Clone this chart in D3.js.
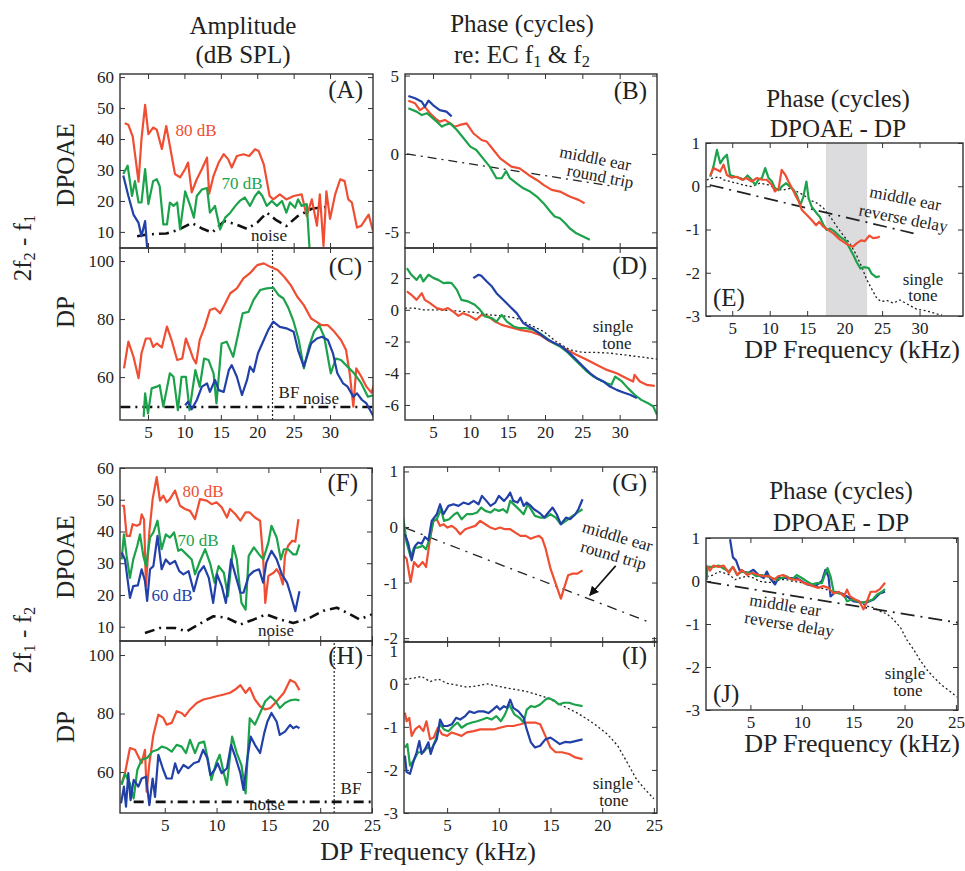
<!DOCTYPE html>
<html>
<head>
<meta charset="utf-8">
<script src="https://cdn.jsdelivr.net/npm/d3@7"></script>
<style>
body { margin: 0; background: #fff; }
svg text { font-family: "Liberation Serif", "Times New Roman", serif; fill: #222; }
</style>
</head>
<body>
<script>
// colours for the three stimulus levels
const RED = "#f04e32", GREEN = "#1ca24a", BLUE = "#2140a8";
const SERIF = '"Liberation Serif", "Times New Roman", serif';

// ---- 2f2-f1 : DPOAE amplitude (A) ----
const aRed = [[1.8,45.1],[2.3,44.6],[2.9,40.8],[3.7,26.2],[4.1,40],[4.6,51],[5.05,41.6],[5.7,43.7],[6.2,43],[6.9,36.8],[7.5,44.2],[8,37.8],[8.7,28.7],[9.4,27.6],[10.1,30.3],[10.5,32.4],[11,22.8],[11.7,27],[12.4,30.3],[13.1,34],[13.4,22.3],[14,28.1],[14.7,32.4],[15.4,35.1],[16,33.5],[16.5,30.8],[17.2,34.5],[18.1,35.1],[18.9,34.5],[19.7,36.7],[20.2,36.1],[20.9,31.8],[21.7,21.6],[22.2,20.5],[23.1,22.1],[24,20.5],[25,21.6],[26.1,22.1],[26.8,15.1],[27.5,20.5],[28.2,12],[28.6,22.1],[29.1,5.5],[29.5,23.1],[30,14.2],[30.7,22.1],[31.4,27],[32,26.4],[32.5,20.5],[33,19.5],[33.7,11.4],[34.3,12],[35.3,15.6],[35.9,10.3]];
const aGreen = [[1.6,28.7],[2.2,31.4],[2.8,21.6],[3.2,26.4],[3.7,19.5],[4.1,19.5],[4.6,30.3],[5.05,19],[5.7,26.4],[6.2,27],[6.6,24.8],[7.1,12.4],[7.6,12.4],[8,19.5],[8.5,18.4],[9,19.5],[9.4,10.8],[10.1,23.1],[10.8,18.4],[11.3,14.6],[11.7,21.6],[12.4,23.7],[13.1,24.2],[13.5,16.2],[14.2,18.4],[14.9,10.8],[15.6,14.6],[16.3,16.2],[17,18.4],[17.6,20],[18.3,21.1],[19,18.4],[19.7,21.6],[20.2,23.1],[20.7,21.6],[21.3,18.4],[22,20],[22.7,18.4],[23.4,20],[24,16.2],[24.5,19.5],[25.2,17.8],[25.6,20.5],[26.1,18.4],[26.8,19],[27.2,4]];
const aBlue = [[1.6,28.2],[2.3,21.6],[3,15.6],[3.7,12.9],[4.1,8.6],[4.6,13.5],[4.9,4]];
const aNoise = [[3.5,8.6],[5,9.2],[7.5,9.5],[9,10.5],[11,12.9],[12.5,11],[13.8,9.8],[15.5,13.5],[17,12.5],[18.6,11],[20,13],[21.3,16.2],[22.5,14],[24,11.9],[25.5,15],[27.5,17.5],[30,18.2]];

// ---- 2f2-f1 : DP amplitude (C) ----
const cRed = [[1.7,63],[2.3,72.2],[3,67],[3.7,59.6],[4.1,68.2],[4.7,73.3],[5.3,73.3],[5.7,70.4],[6.2,71.6],[6.9,70.2],[7.6,77.4],[8.3,72.2],[9,65.9],[9.7,66.4],[10.2,73.3],[10.8,69.3],[11.2,66.4],[11.6,64.7],[12.1,72.8],[12.8,77.4],[13.5,83.1],[14.2,83.7],[14.9,82],[15.6,85.4],[16.3,88.9],[17.2,90.6],[18.1,94],[19,95.8],[20,98.6],[20.9,99.2],[21.8,98],[22.8,96.9],[23.7,94.6],[24.6,91.7],[25.5,87.7],[26.4,84.8],[27.4,80.2],[28.1,79.1],[28.8,77.9],[29.7,77.9],[30.6,75.6],[31.5,72.8],[32.2,69.3],[32.7,61.3],[33.2,49.8],[33.6,63],[34.3,60.1],[35,56.7],[35.7,54.6],[36,57.2]];
const cGreen = [[4.4,46.3],[4.6,54.4],[5,47.5],[5.5,56.1],[6.2,56.7],[6.6,57.2],[7.1,49.8],[8,61.3],[8.5,60.1],[9.1,48.6],[9.6,60.1],[10.2,60.1],[10.7,48.6],[11.5,62.4],[12.1,56.7],[12.7,66.4],[13.3,65.9],[14,61.3],[14.4,50.9],[15.1,71.6],[15.8,72.2],[16.3,69.3],[16.7,67],[17.4,75.1],[18,82],[18.8,82.5],[19.5,86.6],[20.4,90],[21.3,90.6],[22.2,90.8],[22.9,88.3],[23.6,87.1],[24.3,83.7],[25,79.1],[25.7,72.8],[26.4,63],[27.1,70.4],[27.8,75.6],[28.5,77.9],[29.2,73.9],[30.1,61.3],[30.8,66.4],[31.5,65.9],[32.4,63.6],[33.3,61.3],[34.3,57.8],[35.2,53.2],[36,53.8]];
const cBlue = [[10.1,50.3],[10.5,51.5],[11,48.9],[11.7,52.1],[12.4,56.7],[13.1,57.8],[13.5,54.9],[14.2,59],[14.7,55.5],[15.4,54.9],[16.1,62.4],[16.5,64.1],[17.2,60.1],[17.9,53.8],[18.6,59],[19,63.6],[19.5,61.8],[20.1,68.2],[20.9,72.8],[21.5,76.2],[22.2,79.1],[23.1,77.3],[24,76.8],[25,75.6],[25.6,69.3],[26.4,63.6],[27.4,71.6],[28.2,73.3],[28.9,73.9],[29.7,72.8],[30.4,68.2],[31,61.3],[31.8,57.8],[32.4,56.7],[33.2,53.2],[33.7,54.4],[34.4,52.1],[35,50.9],[36,46.3]];
const cNoise = [[1.2,49.7],[36,49.7]];
const bfTop = 22.1;

// ---- 2f2-f1 : DPOAE phase (B) ----
const bRed = [[1.7,3.4],[2.6,3.23],[3.25,2.8],[3.9,3.0],[4.6,2.6],[5.3,2.27],[5.9,2.06],[6.6,2.17],[7.3,1.95],[7.9,1.74],[8.6,1.85],[9.5,1.95],[10.4,1.32],[11.5,0.89],[12.2,0.79],[13.1,0.25],[14,-0.28],[14.9,-0.6],[15.5,-0.81],[16.6,-0.92],[17.8,-1.34],[18.9,-1.66],[19.8,-1.97],[20.9,-2.29],[22,-2.4],[23.3,-2.72],[24.5,-2.93],[25.3,-3.14]];
const bGreen = [[1.7,2.91],[2.8,2.7],[3.5,2.48],[4.2,2.6],[5,2.27],[5.5,2.06],[6.2,1.74],[6.6,1.85],[7.3,1.95],[8.2,1.53],[9.1,1.0],[10,0.47],[10.8,0.25],[11.7,-0.28],[12.6,-0.81],[13.5,-1.55],[14.2,-1.55],[14.8,-1.1],[15.3,-1.55],[16.2,-1.87],[17.1,-2.19],[18,-2.4],[18.9,-2.72],[19.8,-3.14],[20.7,-3.67],[21.3,-3.99],[22,-4.1],[22.7,-4.42],[23.3,-4.74],[24.2,-5.06],[25.1,-5.27],[26,-5.48]];
const bBlue = [[1.7,3.7],[2.6,3.55],[3.5,3.33],[3.9,3.01],[4.4,3.4],[5,3.12],[5.9,2.8],[6.8,2.7],[7.5,2.4]];
const bEar = [[1.5,0],[29,-2.05]];

// ---- 2f2-f1 : DP phase (D) ----
const dGreen = [[1.5,2.63],[2.1,2.21],[2.8,1.89],[3.3,2.21],[3.7,1.79],[4.4,2.21],[5.1,2.0],[5.7,1.89],[6.4,1.68],[7,1.72],[7.5,1.68],[8.2,1.26],[8.8,0.63],[9.7,0.53],[10.6,0.32],[11.3,0],[12,-0.42],[12.9,-0.53],[13.5,-0.74],[14.2,-0.32],[14.9,-0.74],[15.8,-1.05],[16.6,-1.16],[17.5,-1.16],[18.4,-1.26],[19.3,-1.47],[20.2,-1.79],[21.1,-2.1],[22,-2.31],[22.9,-2.63],[23.8,-3.05],[24.7,-3.47],[25.6,-3.89],[26.5,-4.21],[27.4,-4.42],[28.3,-4.63],[28.9,-4.73],[29.4,-4.21],[30.3,-4.52],[31.1,-4.94],[32,-5.36],[32.9,-5.68],[33.8,-5.89],[34.5,-6.1],[35,-6.62]];
const dBlue = [[10.4,2.0],[11.1,2.21],[11.5,2.14],[12.2,1.79],[12.9,1.47],[13.5,1.05],[14.4,0.63],[15.3,0.21],[16.2,-0.21],[17.1,-0.84],[17.8,-1.05],[18.6,-1.26],[19.5,-1.58],[20.4,-1.89],[21.3,-2.1],[22.2,-2.31],[23.3,-2.73],[24.2,-3.15],[25.1,-3.57],[26,-3.99],[26.9,-4.31],[27.8,-4.52],[28.7,-4.84],[29.6,-5.05],[30.5,-5.21],[31.4,-5.36],[32.3,-5.57]];
const dRed = [[1.5,1.16],[2.1,0.95],[2.8,0.63],[3.5,1.05],[3.9,0.63],[4.6,0.42],[5.5,0.11],[6.4,0],[7,0.11],[7.7,-0.11],[8.4,-0.38],[9,-0.21],[9.9,-0.38],[10.8,-0.63],[11.5,-0.32],[12.4,-0.42],[13.3,-0.74],[14.2,-0.95],[15.3,-1.09],[16.6,-1.26],[18,-1.37],[19.3,-1.58],[20.7,-2.0],[21.8,-2.21],[22.9,-2.52],[24.2,-2.84],[25.6,-3.15],[26.9,-3.47],[28.3,-3.79],[29.6,-4.0],[30.9,-4.31],[31.8,-4.52],[32,-4.1],[32.7,-4.52],[33.6,-4.73],[34.7,-4.8]];
const dTone = [[1.25,0.11],[2.4,0.11],[3.7,0],[5.5,0],[7.3,-0.04],[9.1,-0.11],[10.8,-0.17],[12.6,-0.32],[14.4,-0.38],[16.2,-0.53],[18,-0.95],[19.8,-1.37],[21.5,-2.0],[23.3,-2.52],[25.1,-2.69],[26.9,-2.69],[28.7,-2.73],[30.5,-2.84],[32.3,-2.94],[35,-3.11]];

// ---- 2f2-f1 : DPOAE - DP phase (E) ----
const eGreen = [[2.07,0.22],[2.5,0.46],[2.96,0.84],[3.4,0.53],[3.84,0.65],[4.29,0.73],[4.7,0.26],[5.4,0.22],[6.07,0.19],[6.5,0.15],[7.05,0.25],[7.6,0.15],[8.07,0.03],[8.5,0.15],[8.96,0.19],[9.4,0.42],[9.85,0.19],[10.3,0.11],[10.7,-0.05],[11.2,-0.09],[11.6,-0.01],[12.2,0.07],[12.7,-0.01],[13.2,-0.09],[13.6,-0.2],[14.1,-0.43],[14.5,-0.24],[14.9,0.11],[15.2,-0.28],[15.6,-0.47],[16.3,-0.63],[16.7,-0.71],[17.2,-0.9],[17.6,-1.01],[18.1,-0.98],[18.7,-1.05],[19.4,-1.17],[20.1,-1.25],[20.7,-1.44],[21.2,-1.6],[21.6,-1.75],[22.1,-1.9],[22.6,-1.87],[23.2,-1.89],[23.6,-2.02],[24.2,-2.1],[24.7,-2.08]];
const eRed = [[2.07,0.25],[2.5,0.42],[2.96,0.38],[3.4,0.34],[3.84,0.5],[4.29,0.26],[4.9,0.2],[5.6,0.22],[6.3,0.15],[6.9,0.19],[7.6,0.11],[8.3,0.19],[9,0.15],[9.6,0.15],[10.3,0.03],[10.7,-0.12],[11.2,-0.05],[11.6,0.38],[12.1,0.26],[12.5,0.11],[13,-0.05],[13.4,-0.2],[13.9,-0.36],[14.3,-0.55],[15,-0.67],[15.6,-0.78],[16.2,-0.9],[16.6,-0.82],[17.2,-0.94],[17.8,-1.01],[18.5,-1.09],[19.2,-1.21],[19.8,-1.28],[20.5,-1.36],[21.1,-1.4],[21.6,-1.32],[22.2,-1.25],[22.7,-1.27],[23.3,-1.14],[23.8,-1.2],[24.3,-1.19],[24.7,-1.16]];
const eTone = [[1.6,0.15],[2.5,0.19],[3.2,0.22],[3.84,0.15],[4.7,0.11],[5.6,0.07],[6.5,0.03],[7.6,-0.01],[8.7,0.07],[9.85,0.03],[11,-0.06],[11.8,-0.09],[12.7,-0.05],[13.6,-0.12],[14.5,-0.2],[15.4,-0.32],[16.3,-0.39],[17.2,-0.51],[18.1,-0.71],[19,-0.94],[19.8,-1.13],[20.7,-1.32],[21.6,-1.6],[22.3,-1.87],[22.9,-2.14],[23.6,-2.37],[24.3,-2.59],[24.9,-2.67],[25.6,-2.64],[26.5,-2.7],[27.4,-2.63],[28.3,-2.72],[29.6,-2.84],[30.9,-2.88],[32.3,-2.95],[33,-2.98]];
const eEar = [[2,0.03],[29.2,-1.09]];
const eBand = [17.5, 23];

// ---- 2f1-f2 : DPOAE amplitude (F) ----
const fRed = [[0.84,48.1],[1.06,48.1],[1.32,38.6],[1.64,38.6],[1.9,42.3],[2.29,41.8],[2.61,42.3],[2.77,45.4],[3,43.8],[3.19,22.8],[3.51,39.7],[3.83,50.2],[4.22,57.1],[4.54,49.7],[4.86,51.3],[5.18,49.2],[5.5,50.2],[5.99,52.9],[6.47,48.1],[6.95,47.1],[7.44,46.5],[7.92,43.9],[8.4,50.2],[9.05,49.7],[9.53,48.6],[10,49.2],[10.5,47.6],[11,44.4],[11.3,47.1],[11.8,45.5],[12.3,43.4],[12.8,46],[13.2,46],[13.7,44.4],[14.2,43.4],[14.5,31.3],[14.7,17.5],[15,26],[15.5,27],[15.8,28.1],[16.1,26.5],[16.4,23.3],[16.6,32.3],[16.9,35.5],[17.3,37.1],[17.6,36.8],[17.9,43.9]];
const fGreen = [[0.84,31.2],[1.06,39.1],[1.32,32.3],[1.64,25.4],[1.96,31.2],[2.35,35.5],[2.61,39.1],[2.93,32.3],[3.19,29.1],[3.58,38.1],[3.9,39.7],[4.3,43.4],[4.7,34.4],[5.1,39.1],[5.5,38.1],[5.9,39.7],[6.3,33.9],[6.6,34.4],[7.1,32.8],[7.6,31.2],[7.92,26.5],[8.4,30.7],[8.9,34.4],[9.4,29.7],[9.8,23.9],[10.2,29.1],[10.7,27],[11.1,19.6],[11.6,35.5],[11.95,31.2],[12.4,17.5],[12.8,15.4],[13.1,32.3],[13.6,35],[14.1,32.8],[14.5,31.2],[15,36.5],[15.3,41.8],[15.8,38.1],[16.2,31.2],[16.5,34.4],[16.9,34.4],[17.4,32.8],[17.7,32.8],[18,35.9]];
const fBlue = [[0.84,33.4],[1.16,31.2],[1.64,19.1],[1.96,22.8],[2.4,23],[2.77,28.1],[3.09,24.4],[3.3,18.1],[3.58,28.1],[3.9,29.1],[4.3,38.6],[4.7,28.1],[5.1,31.2],[5.5,29.7],[5.99,30.7],[6.4,27.5],[6.8,26.5],[7.3,27.5],[7.8,21.2],[8.28,27],[8.77,29.1],[9.25,25.4],[9.67,17.5],[10.05,26.5],[10.5,22.8],[10.9,17.5],[11.4,31.2],[11.8,26.5],[12.3,20.7],[12.6,20.7],[13.1,26],[13.6,27.5],[14.1,28.1],[14.5,23.9],[14.8,30.2],[15.3,33.9],[15.8,31.2],[16.3,26.5],[16.8,23.9],[17.1,20.7],[17.6,14.9],[18,21.2]];
const fNoise = [[3.09,8],[4.54,9.6],[6,9.6],[7.1,8.5],[8.8,11.7],[9.7,13.3],[11,12.8],[12.3,10.7],[13.6,12.3],[14.8,13.9],[16.1,12.3],[17.4,11.2],[18.7,12.3],[20.3,15],[21.6,16],[22.9,13.9],[23.8,12.3],[25,13.9]];

// ---- 2f1-f2 : DP amplitude (H) ----
const hRed = [[0.84,56.1],[1.16,59.6],[1.64,68.2],[2.13,67.6],[2.45,65.3],[2.77,63.1],[3.09,67.6],[3.25,53.3],[3.51,62.8],[3.9,72.7],[4.38,79.6],[4.86,78.5],[5.18,76.2],[5.67,76.8],[6.15,80.8],[6.63,80.2],[6.95,79.1],[7.44,81.4],[8.08,83.6],[8.73,84.8],[9.37,85.3],[10,85.9],[10.7,86.5],[11.3,87.1],[11.8,88.2],[12.3,89.7],[12.8,87.1],[13.2,88.8],[13.7,84.8],[14.2,82.5],[14.7,81.4],[15.2,81.9],[15.8,84.2],[16.5,87.1],[17.1,91.5],[17.6,90.5],[18,88]];
const hGreen = [[0.84,55.6],[1.16,59.4],[1.64,56.1],[2,51],[2.35,60.7],[2.77,64.2],[3.3,64.8],[3.8,67],[4.3,67.6],[4.7,68.7],[5.18,68.2],[5.67,67],[6.15,69.3],[6.63,68.7],[7.05,66.5],[7.44,71],[7.92,66.5],[8.3,69.9],[8.8,70.4],[9.2,63.6],[9.5,57.3],[9.95,63],[10.3,65.9],[10.7,59.6],[11,55.6],[11.5,72.1],[11.95,66.5],[12.4,62.4],[12.8,52.7],[13.2,78.4],[13.7,76.2],[14.2,80.2],[14.7,84.2],[15.2,85.9],[15.7,84.2],[16.1,81.9],[16.6,83.6],[17.1,84.5],[17.6,84.8],[18,84.5]];
const hBlue = [[0.78,49.3],[1.06,55],[1.26,48.2],[1.48,59.6],[1.7,50.4],[2,57.3],[2.45,55],[2.77,57.8],[3.19,58.4],[3.51,48.7],[3.83,57.8],[4.06,51.5],[4.38,65.9],[4.86,60.7],[5.18,57.8],[5.67,57.8],[6,63],[6.31,59.6],[6.8,62.4],[7.28,61.3],[7.8,63],[8.28,63.6],[8.7,67.6],[9.1,64.8],[9.4,59],[9.8,60.7],[10.1,63],[10.5,59.6],[11,61.3],[11.4,69.3],[11.8,65.3],[12.3,59.6],[12.6,53.9],[13,65.3],[13.3,72.1],[13.7,69.3],[14.2,66.5],[14.6,73.3],[14.9,77.2],[15.3,80.2],[15.8,77.2],[16.1,72.7],[16.6,73.8],[17.1,76.1],[17.4,75],[17.7,75.6],[18,75]];
const hNoise = [[2,49.8],[25,49.8]];
const bfBottom = 21.35;

// ---- 2f1-f2 : DPOAE phase (G) ----
const gBlue = [[0.92,-0.13],[1.25,-0.3],[1.57,-0.6],[1.9,-0.34],[2.2,-0.28],[2.54,-0.3],[2.86,-0.18],[3.19,-0.24],[3.51,0.11],[4,0.23],[4.32,0.41],[4.64,0.23],[5.13,0.38],[5.61,0.41],[6.1,0.38],[6.58,0.44],[7.07,0.41],[7.56,0.47],[8.04,0.41],[8.37,0.56],[8.8,0.47],[9.2,0.38],[9.66,0.44],[10,0.56],[10.5,0.47],[10.8,0.53],[11.1,0.62],[11.4,0.47],[11.8,0.44],[12.1,0.53],[12.4,0.38],[12.7,0.44],[13.1,0.38],[13.4,0.32],[13.9,0.26],[14.4,0.17],[14.8,0.26],[15.2,0.35],[15.6,0.23],[16,0.05],[16.5,0.17],[16.9,0.14],[17.4,0.23],[17.7,0.32],[18.1,0.5]];
const gGreen = [[0.76,0.17],[1.08,-0.28],[1.47,-0.54],[1.8,-0.37],[2.2,-0.37],[2.64,-0.34],[2.96,-0.4],[3.35,-0.18],[3.67,0.11],[4,0.14],[4.4,0.32],[4.7,0.11],[5.2,0.14],[5.7,0.23],[6,0.26],[6.4,0.14],[6.9,0.23],[7.4,0.23],[7.9,0.26],[8.3,0.35],[8.7,0.29],[9.2,0.26],[9.6,0.32],[10,0.29],[10.4,0.32],[10.8,0.26],[11.1,0.47],[11.6,0.38],[12.1,0.29],[12.4,0.23],[12.8,0.41],[13.2,0.29],[13.5,0.2],[14,0.17],[14.5,0.17],[15,0.23],[15.5,0.17],[16,0.05],[16.5,0.11],[16.9,0.17],[17.6,0.26],[18.1,0.32]];
const gRed = [[0.76,-0.51],[1.08,-0.57],[1.47,-0.99],[1.8,-0.63],[2.2,-0.72],[2.64,-0.63],[2.96,-0.72],[3.35,-0.21],[3.67,0.11],[4,0.14],[4.32,0.02],[4.64,0.05],[5.03,-0.01],[5.45,0.02],[5.87,-0.04],[6.26,-0.13],[6.75,-0.04],[7.23,-0.01],[7.72,0.02],[8.2,0.11],[8.7,0.05],[9.2,-0.01],[9.66,-0.04],[10.1,-0.01],[10.6,-0.04],[11.1,-0.04],[11.6,-0.1],[12.1,-0.16],[12.6,-0.16],[13.1,-0.21],[13.5,-0.18],[13.9,-0.16],[14.2,-0.21],[14.5,-0.37],[15,-0.75],[15.5,-1.02],[16,-1.29],[16.3,-1.11],[16.7,-0.87],[17.1,-0.84],[17.6,-0.84],[18.1,-0.78]];
const gEar = [[1,-0.02],[24.5,-1.71]];
const gArrow = [[21.3,-0.7],[18.8,-1.23]];

// ---- 2f1-f2 : DP phase (I) ----
const iTone = [[0.92,0.11],[1.73,0.13],[2.54,0.17],[3.35,0.05],[4.16,0.11],[4.97,0.01],[5.94,-0.03],[6.9,-0.08],[7.88,-0.05],[8.85,0],[9.8,-0.05],[10.8,-0.1],[11.8,-0.14],[12.7,-0.18],[13.7,-0.25],[14.7,-0.33],[15.6,-0.44],[16.6,-0.56],[17.6,-0.68],[18.6,-0.83],[19.5,-0.98],[20.5,-1.17],[21.5,-1.44],[22.4,-1.82],[23.3,-2.21],[24.1,-2.44],[25,-2.67]];
const iBlue = [[0.92,-1.67],[1.08,-2.05],[1.41,-2.09],[1.73,-1.82],[2.05,-1.59],[2.31,-1.33],[2.54,-1.63],[2.86,-1.52],[3.19,-1.36],[3.41,-1.63],[3.67,-1.44],[4,-1.29],[4.32,-0.83],[4.64,-0.98],[5.03,-0.98],[5.45,-0.94],[5.87,-0.79],[6.26,-0.83],[6.75,-0.75],[7.17,-0.64],[7.62,-0.68],[8.04,-0.64],[8.53,-0.64],[9,-0.68],[9.43,-0.6],[9.82,-0.52],[10.1,-0.6],[10.5,-0.52],[10.8,-0.56],[11.1,-0.37],[11.4,-0.56],[11.9,-0.64],[12.4,-0.79],[12.7,-1.06],[13.1,-1.36],[13.5,-1.48],[14,-1.44],[14.5,-1.29],[15,-1.25],[15.5,-1.33],[15.9,-1.4],[16.4,-1.35],[16.9,-1.36],[17.4,-1.33],[18.1,-1.29]];
const iGreen = [[0.92,-1.48],[1.15,-1.4],[1.41,-1.9],[1.73,-1.79],[2.2,-1.59],[2.7,-1.59],[3.06,-1.48],[3.5,-1.52],[3.9,-1.29],[4.32,-0.94],[4.7,-1.06],[5.13,-1.1],[5.6,-0.98],[6,-0.9],[6.4,-1.02],[6.9,-0.94],[7.4,-0.9],[7.9,-0.87],[8.4,-0.83],[8.85,-0.79],[9.3,-0.83],[9.75,-0.75],[10.2,-0.87],[10.6,-0.71],[11,-0.48],[11.5,-0.71],[12,-0.79],[12.4,-0.9],[12.7,-0.6],[13.1,-0.52],[13.5,-0.54],[14,-0.48],[14.5,-0.37],[14.8,-0.33],[15.3,-0.38],[15.8,-0.48],[16.3,-0.44],[16.8,-0.44],[17.3,-0.48],[18.1,-0.52]];
const iRed = [[0.92,-0.67],[1.08,-0.87],[1.34,-0.79],[1.57,-1.21],[1.9,-1.06],[2.3,-0.98],[2.7,-1.1],[3,-0.87],[3.35,-1.29],[3.7,-1.25],[4.1,-1.02],[4.5,-1.17],[5,-1.21],[5.45,-1.13],[5.94,-1.17],[6.4,-1.21],[6.9,-1.13],[7.56,-1.1],[8.2,-1.06],[8.85,-1.06],[9.5,-1.06],[10.1,-1.02],[10.8,-0.98],[11.4,-0.98],[12.1,-0.94],[12.7,-0.9],[13.5,-0.9],[14,-0.94],[14.5,-1.21],[15,-1.48],[15.5,-1.59],[16.1,-1.59],[16.8,-1.63],[17.4,-1.71],[18.1,-1.75]];

// ---- 2f1-f2 : DPOAE - DP phase (J) ----
const jBlue = [[3.02,0.97],[3.3,0.55],[3.6,0.48],[3.93,0.26],[4.3,0.22],[4.8,0.19],[5.3,0.26],[5.8,0.14],[6.3,0.07],[6.6,0.22],[6.9,0.07],[7.4,-0.08],[7.7,0.07],[8.5,0.07],[9.5,0.07],[10.5,-0.08],[11.3,-0.12],[11.96,0],[12.3,0.26],[12.6,0.1],[12.8,-0.36],[13.3,-0.25],[13.9,-0.29],[14.4,-0.36],[15,-0.47],[15.7,-0.5],[16.3,-0.5],[17,-0.43],[17.6,-0.29],[18.1,-0.25]];
const jGreen = [[0.75,0.02],[0.8,0.33],[1.4,0.33],[1.9,0.36],[2.4,0.29],[2.9,0.22],[3.3,0.33],[3.7,0.14],[4.16,0.22],[4.65,0.19],[5.1,0.19],[5.6,0.11],[6.1,0.14],[6.6,0.11],[7.1,0.07],[7.57,0.03],[8.06,0.07],[8.5,0.11],[9.03,0.03],[9.5,0.14],[10,0.07],[10.5,-0.01],[11,-0.08],[11.5,-0.05],[11.96,-0.05],[12.3,0.19],[12.5,0.3],[12.8,0.11],[13.1,-0.25],[13.6,-0.29],[14.1,-0.32],[14.4,-0.47],[14.9,-0.43],[15.4,-0.47],[15.9,-0.5],[16.4,-0.47],[16.9,-0.43],[17.3,-0.32],[17.8,-0.25],[18.1,-0.19]];
const jRed = [[0.75,0.36],[1.07,0.24],[1.4,0.36],[1.9,0.33],[2.4,0.36],[2.9,0.19],[3.3,0.33],[3.74,0.14],[4.16,0.26],[4.7,0.14],[5.2,0.19],[5.8,0.14],[6.3,0.11],[6.8,0.12],[7.3,0.03],[7.7,0.11],[8.2,0.14],[8.7,0.07],[9.2,0.03],[9.7,0.03],[10.2,-0.05],[10.7,-0.08],[11.1,-0.12],[11.6,-0.16],[12.1,-0.12],[12.6,-0.16],[13.1,-0.29],[13.6,-0.25],[14.1,-0.36],[14.4,-0.2],[14.7,-0.36],[15.2,-0.43],[15.6,-0.47],[16,-0.66],[16.3,-0.5],[16.7,-0.25],[17.2,-0.25],[17.6,-0.19],[18.1,-0.04]];
const jTone = [[0.75,0.1],[1.4,0.14],[1.9,0.22],[2.4,0.19],[3,0.14],[3.5,0.03],[4,0.07],[4.65,0.11],[5.3,0.07],[5.9,-0.01],[6.6,-0.03],[7.2,-0.03],[7.9,0.03],[8.5,0.03],[9.2,-0.01],[9.8,-0.03],[10.5,-0.05],[11.1,-0.1],[11.8,-0.16],[12.4,-0.2],[13.1,-0.25],[13.7,-0.29],[14.4,-0.36],[15,-0.43],[15.7,-0.5],[16.3,-0.58],[17,-0.62],[17.6,-0.7],[18.3,-0.77],[18.9,-0.89],[19.6,-1.08],[20.2,-1.36],[20.9,-1.6],[21.5,-1.84],[22.2,-2.07],[22.8,-2.23],[23.6,-2.42],[24.5,-2.58],[25.1,-2.7]];
const jEar = [[0.8,-0.02],[25.2,-0.97]];

// tick values
const ticksTopX = [5, 10, 15, 20, 25, 30];
const ticksBotX = [5, 10, 15, 20, 25];

const svg = d3.select("body").append("svg").attr("width", 965).attr("height", 871)
  .attr("font-family", SERIF);
const defs = svg.append("defs");
defs.append("marker").attr("id", "arrow").attr("viewBox", "0 0 10 10")
  .attr("refX", 9).attr("refY", 5).attr("markerWidth", 6).attr("markerHeight", 6)
  .attr("orient", "auto")
  .append("path").attr("d", "M0,0L10,5L0,10z").attr("fill", "#111");

const fmt = d => String(d);

function panel(o) {
  const [x0, x1, y0, y1] = o.box;
  const x = d3.scaleLinear().domain(o.xd).range([x0, x1]);
  const y = d3.scaleLinear().domain(o.yd).range([y1, y0]);
  const g = svg.append("g");
  defs.append("clipPath").attr("id", "clip" + o.name)
    .append("rect").attr("x", x0).attr("y", y0).attr("width", x1 - x0).attr("height", y1 - y0);

  g.append("g").attr("transform", `translate(${x0},0)`)
    .call(d3.axisLeft(y).tickValues(o.yt).tickSize(-5).tickPadding(6).tickFormat(fmt));
  g.append("g").attr("transform", `translate(${x1},0)`)
    .call(d3.axisRight(y).tickValues(o.yt).tickSize(-5).tickFormat(""));
  g.append("g").attr("transform", `translate(0,${y0})`)
    .call(d3.axisTop(x).tickValues(o.xt).tickSize(-5).tickFormat(""));
  g.append("g").attr("transform", `translate(0,${y1})`)
    .call(d3.axisBottom(x).tickValues(o.xt).tickSize(-5).tickPadding(6).tickFormat(o.xlab ? fmt : ""));
  g.selectAll(".domain").remove();
  g.selectAll("g").attr("font-family", SERIF);
  g.selectAll(".tick line").attr("stroke", "#333").attr("stroke-width", 1);
  g.selectAll(".tick text").attr("font-size", 17).attr("font-family", SERIF).attr("fill", "#222");
  if (o.nudgeTop) {
    g.selectAll(".tick text").filter(d => d === o.nudgeTop).attr("dy", "0.95em");
  }

  const plot = g.append("g").attr("clip-path", `url(#clip${o.name})`);
  if (o.band) {
    plot.append("rect").attr("x", x(o.band[0])).attr("y", y0)
      .attr("width", x(o.band[1]) - x(o.band[0])).attr("height", y1 - y0).attr("fill", "#dcdcde");
  }
  g.append("rect").attr("x", x0).attr("y", y0).attr("width", x1 - x0).attr("height", y1 - y0)
    .attr("fill", "none").attr("stroke", "#333").attr("stroke-width", 1.4);
  return { x, y, g, plot };
}

function curve(p, data, color, w, dash) {
  p.plot.append("path").datum(data)
    .attr("fill", "none").attr("stroke", color).attr("stroke-width", w)
    .attr("stroke-linejoin", "round").attr("stroke-dasharray", dash || null)
    .attr("d", d3.line().x(d => p.x(d[0])).y(d => p.y(d[1])));
}

function vline(p, f, dash) {
  const [a, b] = p.y.domain();
  curve(p, [[f, a], [f, b]], "#222", 1.2, dash);
}

function label(x, y, s, opt = {}) {
  const t = svg.append("text").attr("x", x).attr("y", y)
    .attr("font-family", SERIF)
    .attr("text-anchor", opt.anchor || "middle").attr("dominant-baseline", "middle")
    .attr("font-size", opt.size || 17).text(s);
  if (opt.color) t.style("fill", opt.color);
  if (opt.rot) t.attr("transform", `rotate(${opt.rot},${x},${y})`);
  return t;
}

// text with subscripts: parts = [[text, isSub], ...]
function subText(x, y, parts, size, rot) {
  const t = svg.append("text").attr("text-anchor", "middle").attr("dominant-baseline", "middle")
    .attr("font-family", SERIF).attr("font-size", size)
    .attr("transform", `translate(${x},${y})` + (rot ? ` rotate(${rot})` : ""));
  let down = false;
  parts.forEach(([s, sub]) => {
    const ts = t.append("tspan").text(s);
    if (sub && !down) { ts.attr("dy", size * 0.25).attr("font-size", size * 0.66); down = true; }
    else if (sub) { ts.attr("font-size", size * 0.66); }
    else if (down) { ts.attr("dy", -size * 0.25); down = false; }
  });
  return t;
}

const NOISE = "10,5,2,5", TONE = "2,2.5";
const LW = 2.2;

// ---------- panels ----------
const A = panel({ name: "A", box: [120, 373, 74, 248], xd: [1.15, 35.9], yd: [4.8, 61], xt: ticksTopX, yt: [10, 20, 30, 40, 50, 60] });
curve(A, aNoise, "#111", 2.6, NOISE);
curve(A, aRed, RED, LW);
curve(A, aGreen, GREEN, LW);
curve(A, aBlue, BLUE, LW);

const C = panel({ name: "C", box: [120, 373, 248, 420], xd: [1.15, 35.9], yd: [45.2, 104.5], xt: ticksTopX, yt: [60, 80, 100], xlab: true });
curve(C, cNoise, "#111", 2.6, NOISE);
vline(C, bfTop, "2,2");
curve(C, cRed, RED, LW);
curve(C, cGreen, GREEN, LW);
curve(C, cBlue, BLUE, LW);

const B = panel({ name: "B", box: [405, 657, 74, 248], xd: [1.25, 35], yd: [-6, 5.1], xt: ticksTopX, yt: [-5, 0, 5] });
curve(B, bEar, "#222", 1.3, "9,5,2,5");
curve(B, bRed, RED, LW);
curve(B, bGreen, GREEN, LW);
curve(B, bBlue, BLUE, LW);

const D = panel({ name: "D", box: [405, 657, 248, 420], xd: [1.25, 35], yd: [-6.95, 3.9], xt: ticksTopX, yt: [-6, -4, -2, 0, 2], xlab: true });
curve(D, dTone, "#222", 1.3, TONE);
curve(D, dRed, RED, LW);
curve(D, dGreen, GREEN, LW);
curve(D, dBlue, BLUE, LW);

const E = panel({ name: "E", box: [706, 963, 143, 316], xd: [1.5, 35.8], yd: [-3, 1], xt: ticksTopX, yt: [-3, -2, -1, 0, 1], xlab: true, band: eBand });
curve(E, eTone, "#222", 1.3, TONE);
curve(E, eEar, "#222", 1.7, "14,6,2,6");
curve(E, eGreen, GREEN, LW);
curve(E, eRed, RED, LW);

const F = panel({ name: "F", box: [120, 372, 468, 641], xd: [0.68, 25], yd: [5.5, 60], xt: ticksBotX, yt: [10, 20, 30, 40, 50, 60] });
curve(F, fNoise, "#111", 2.6, NOISE);
curve(F, fRed, RED, LW);
curve(F, fGreen, GREEN, LW);
curve(F, fBlue, BLUE, LW);

const H = panel({ name: "H", box: [120, 372, 641, 813], xd: [0.68, 25], yd: [46, 104.8], xt: ticksBotX, yt: [60, 80, 100], xlab: true });
curve(H, hNoise, "#111", 2.6, NOISE);
vline(H, bfBottom, "2,2");
curve(H, hRed, RED, LW);
curve(H, hGreen, GREEN, LW);
curve(H, hBlue, BLUE, LW);

const G = panel({ name: "G", box: [404, 657, 467, 642], xd: [0.83, 25.3], yd: [-2.07, 1.08], xt: ticksBotX, yt: [-2, -1, 0, 1] });
curve(G, gEar, "#222", 1.3, "10,6,2,6");
curve(G, gRed, RED, LW);
curve(G, gGreen, GREEN, LW);
curve(G, gBlue, BLUE, LW);
G.g.append("path").datum(gArrow).attr("fill", "none").attr("stroke", "#111").attr("stroke-width", 1.6)
  .attr("marker-end", "url(#arrow)")
  .attr("d", d3.line().x(d => G.x(d[0])).y(d => G.y(d[1])));

const I = panel({ name: "I", box: [404, 657, 642, 813], xd: [0.83, 25.3], yd: [-3, 0.97], xt: ticksBotX, yt: [-3, -2, -1, 0, 1], xlab: true, nudgeTop: 1 });
curve(I, iTone, "#222", 1.3, TONE);
curve(I, iRed, RED, LW);
curve(I, iGreen, GREEN, LW);
curve(I, iBlue, BLUE, LW);

const J = panel({ name: "J", box: [706, 958, 538, 710], xd: [0.68, 25.2], yd: [-3, 1], xt: ticksBotX, yt: [-3, -2, -1, 0, 1], xlab: true });
curve(J, jTone, "#222", 1.3, TONE);
curve(J, jEar, "#222", 1.7, "14,6,2,6");
curve(J, jBlue, BLUE, LW);
curve(J, jGreen, GREEN, LW);
curve(J, jRed, RED, LW);

// ---------- panel letters ----------
[["(A)", 363, 92], ["(B)", 647, 93], ["(C)", 362, 269], ["(D)", 647, 268],
 ["(F)", 358, 485], ["(G)", 647, 485], ["(H)", 363, 658], ["(I)", 647, 658]]
  .forEach(([s, x, y]) => label(x, y, s, { size: 25, anchor: "end" }));
label(713, 300, "(E)", { size: 25, anchor: "start" });
label(713, 696, "(J)", { size: 25, anchor: "start" });

// ---------- annotations ----------
label(196, 132, "80 dB", { color: RED });
label(242, 185, "70 dB", { color: GREEN });
label(269, 237, "noise");
label(289, 394, "BF");
label(321, 400, "noise");
label(595, 160, "middle ear", { rot: 11 });
label(600, 178, "round trip", { rot: 11 });
label(613, 328, "single");
label(617, 345, "tone");
label(905, 200, "middle ear", { rot: 11 });
label(903, 220, "reverse delay", { rot: 11 });
label(923, 281, "single");
label(923, 297, "tone");

label(203, 493, "80 dB", { color: RED });
label(198, 542, "70 dB", { color: GREEN });
label(172, 597, "60 dB", { color: BLUE });
label(276, 632, "noise");
label(351, 790, "BF");
label(267, 806, "noise");
label(617, 538, "middle ear", { rot: 16 });
label(613, 557, "round trip", { rot: 16 });
label(613, 785, "single");
label(614, 802, "tone");
label(785, 607, "middle ear", { rot: 9 });
label(789, 626, "reverse delay", { rot: 9 });
label(905, 675, "single");
label(908, 692, "tone");

// ---------- titles ----------
label(243, 28, "Amplitude", { size: 25 });
label(243, 57, "(dB SPL)", { size: 25 });
label(522, 26, "Phase (cycles)", { size: 25 });
subText(522, 57, [["re: EC f"], ["1", true], [" & f"], ["2", true]], 25);
label(838, 101, "Phase (cycles)", { size: 25 });
label(838, 131, "DPOAE - DP", { size: 25 });
label(841, 493, "Phase (cycles)", { size: 25 });
label(841, 525, "DPOAE - DP", { size: 25 });
label(852, 352, "DP Frequency (kHz)", { size: 26 });
label(852, 746, "DP Frequency (kHz)", { size: 26 });
label(428, 854, "DP Frequency (kHz)", { size: 26 });

// ---------- row labels ----------
subText(25, 248, [["2f"], ["2", true], [" - f"], ["1", true]], 25, -90);
subText(25, 640, [["2f"], ["1", true], [" - f"], ["2", true]], 25, -90);
label(68, 165, "DPOAE", { size: 25, rot: -90 });
label(68, 312, "DP", { size: 25, rot: -90 });
label(68, 557, "DPOAE", { size: 25, rot: -90 });
label(68, 727, "DP", { size: 25, rot: -90 });
</script>
</body>
</html>
